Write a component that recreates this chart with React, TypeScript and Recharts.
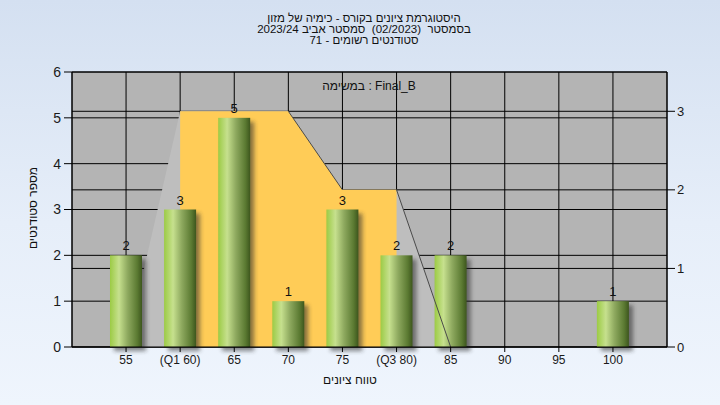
import {
  ComposedChart,
  Bar,
  Area,
  Line,
  XAxis,
  YAxis,
  CartesianGrid,
  LabelList,
} from "recharts";

const grades = ["55", "(Q1 60)", "65", "70", "75", "(Q3 80)", "85", "90", "95", "100"];
const students = [2, 3, 5, 1, 3, 2, 2, 0, 0, 1];
const spread = [0, 3, 3, 3, 2, 2, 0, null, null, null];
const quartileBox = [null, 3, 3, 3, 2, 2, null, null, null, null];
const upperEdge = [null, null, null, 3, 2, null, null, null, null, null];
const lowerEdge = [null, null, null, null, null, 2, 0, null, null, null];
const leftTicks = [0, 1, 2, 3, 4, 5, 6];
const rightTicks = [0, 1, 2, 3];

const titleLines = [
  "היסטוגרמת ציונים בקורס - כימיה של מזון",
  "בסמסטר  (02/2023)  סמסטר אביב 2023/24",
  "סטודנטים רשומים - 71",
];
const xLabel = "טווח ציונים";
const yLabel = "מספר סטודנטים";
const legendLabel = "במשימה : Final_B";

const data = grades.map((grade, i) => ({
  grade,
  students: students[i],
  spread: spread[i],
  quartileBox: quartileBox[i],
  upperEdge: upperEdge[i],
  lowerEdge: lowerEdge[i],
}));

const FONT = "'Liberation Sans', Arial, sans-serif";

const CylinderBar = (props: any) => {
  const {x, y, width, height} = props;
  if (!height || height <= 0) return null;
  return (
    <g>
      <rect
        x={x + 4}
        y={y + 4}
        width={width}
        height={height}
        fill="#2a2a2a"
        opacity={0.55}
        filter="url(#barShadow)"
      />
      <rect x={x} y={y} width={width} height={height} fill="url(#barGrad)"/>
    </g>
  );
};

const textBox = (style: any) => ({
  position: "absolute" as const,
  textAlign: "center" as const,
  color: "#111",
  whiteSpace: "pre" as const,
  ...style,
});

export default function App() {
  return (
    <div
      style={{
        position: "absolute",
        left: 0,
        top: 0,
        width: 720,
        height: 405,
        background: "linear-gradient(180deg, #d4e0f1 0%, #e6eef9 55%, #eff5fd 100%)",
        fontFamily: FONT,
        overflow: "hidden",
      }}
    >
      {titleLines.map((t, i) => (
        <div
          key={i}
          style={textBox({
            left: 0,
            width: 728,
            top: 13 + i * 11,
            fontSize: 11.5,
            lineHeight: "11px",
          })}
        >
          {t}
        </div>
      ))}
      <ComposedChart
        width={720}
        height={405}
        data={data}
        margin={{top: 72, right: 23, bottom: 28, left: 32}}
      >
        <defs>
          <linearGradient id="barGrad" x1="0" y1="0" x2="1" y2="0">
            <stop offset="0%" stopColor="#9ccb45"/>
            <stop offset="28%" stopColor="#c6e08e"/>
            <stop offset="55%" stopColor="#8ea95f"/>
            <stop offset="85%" stopColor="#5b7a32"/>
            <stop offset="100%" stopColor="#3d561d"/>
          </linearGradient>
          <filter id="barShadow" x="-50%" y="-50%" width="200%" height="200%">
            <feGaussianBlur stdDeviation="2"/>
          </filter>
        </defs>
        <CartesianGrid
          yAxisId="left"
          stroke="#000"
          strokeWidth={1}
          fill="#b4b4b4"
          fillOpacity={1}
        />
        <CartesianGrid yAxisId="right" stroke="#000" strokeWidth={1} vertical={false}/>
        <XAxis
          dataKey="grade"
          padding={{left: 27, right: 27}}
          height={30}
          stroke="#000"
          tickSize={5}
          tickMargin={3}
          interval={0}
          tick={{fill: "#1a1a1a", fontSize: 12, fontFamily: FONT}}
        />
        <YAxis
          yAxisId="left"
          orientation="left"
          width={40}
          domain={[0, 6]}
          ticks={leftTicks}
          stroke="#000"
          tickSize={8}
          tickMargin={3}
          tick={{fill: "#1a1a1a", fontSize: 14, fontFamily: FONT}}
        />
        <YAxis
          yAxisId="right"
          orientation="right"
          width={30}
          domain={[0, 3.5]}
          ticks={rightTicks}
          stroke="#000"
          tickSize={8}
          tickMargin={2}
          tick={{fill: "#1a1a1a", fontSize: 13, fontFamily: FONT}}
        />
        <Area
          yAxisId="right"
          type="linear"
          dataKey="spread"
          fill="#bebebe"
          fillOpacity={1}
          stroke="none"
          dot={false}
          activeDot={false}
          isAnimationActive={false}
        />
        <Line
          yAxisId="right"
          type="linear"
          dataKey="upperEdge"
          stroke="#4a4a4a"
          strokeWidth={1}
          dot={false}
          activeDot={false}
          isAnimationActive={false}
        />
        <Line
          yAxisId="right"
          type="linear"
          dataKey="lowerEdge"
          stroke="#4a4a4a"
          strokeWidth={1}
          dot={false}
          activeDot={false}
          isAnimationActive={false}
        />
        <Area
          yAxisId="right"
          type="linear"
          dataKey="quartileBox"
          fill="#ffcc57"
          fillOpacity={1}
          stroke="none"
          dot={false}
          activeDot={false}
          isAnimationActive={false}
        />
        <Bar
          yAxisId="left"
          dataKey="students"
          barSize={32}
          shape={CylinderBar}
          isAnimationActive={false}
        >
          <LabelList
            dataKey="students"
            position="top"
            offset={5}
            fill="#111"
            fontSize={13}
            fontFamily={FONT}
            formatter={(v: any) => (v ? v : "")}
          />
        </Bar>
      </ComposedChart>
      <div style={textBox({left: 300, width: 138, top: 79, fontSize: 12})}>
        {legendLabel}
      </div>
      <div style={textBox({left: 290, width: 120, top: 373, fontSize: 12})}>
        {xLabel}
      </div>
      <div
        style={textBox({
          left: 33 - 60,
          top: 208 - 8,
          width: 120,
          fontSize: 12,
          lineHeight: "16px",
          transform: "rotate(-90deg)",
        })}
      >
        {yLabel}
      </div>
    </div>
  );
}
